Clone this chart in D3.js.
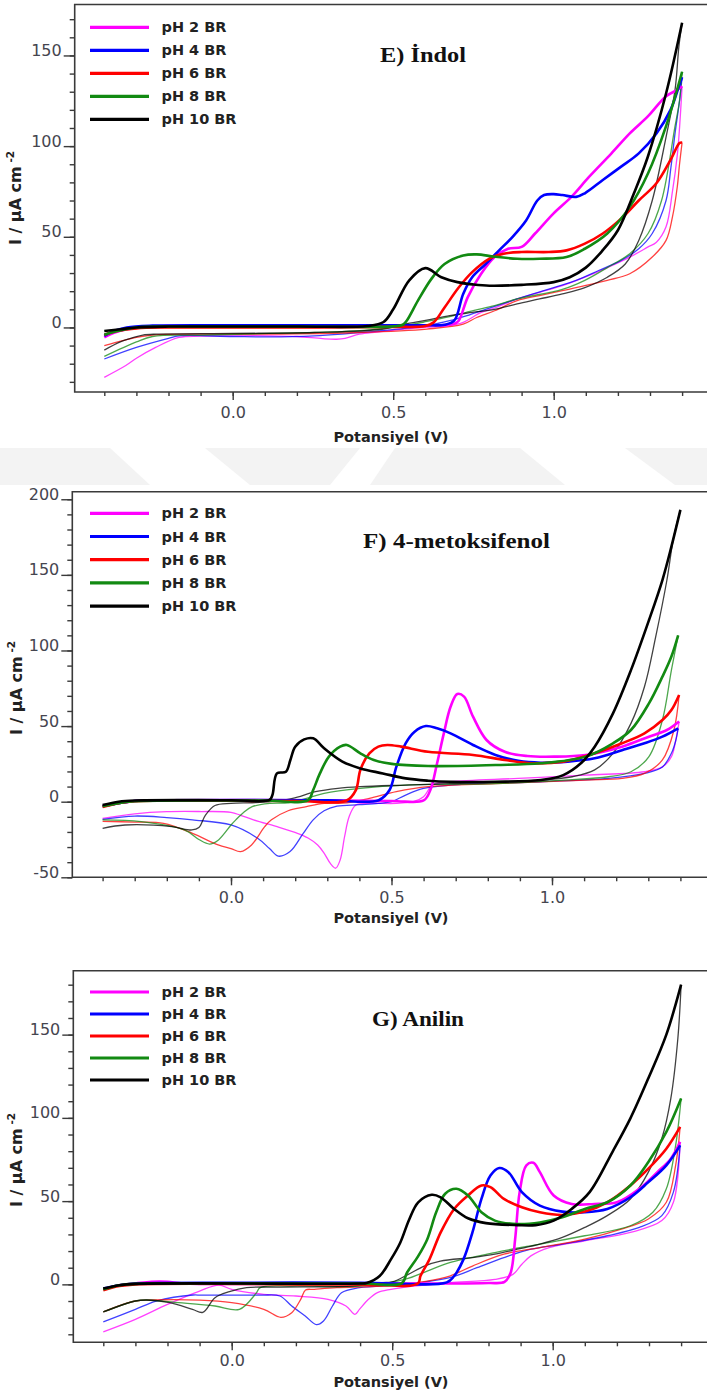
<!DOCTYPE html>
<html><head><meta charset="utf-8">
<script src="https://cdn.jsdelivr.net/npm/d3@7"></script>
<style>body{margin:0;background:#fff}svg{display:block}</style>
</head><body>
<svg id="chart" width="707" height="1396"></svg>
<script>
// ---------- labels / ticks ----------
const seriesLabels = ["pH 2 BR", "pH 4 BR", "pH 6 BR", "pH 8 BR", "pH 10 BR"];
const panelTitles = ["E) İndol", "F) 4-metoksifenol", "G) Anilin"];
const xAxisTitle = "Potansiyel (V)";
const xMajorTicks = [0.0, 0.5, 1.0];
const xMinorTicks = [-0.4,-0.3,-0.2,-0.1,0.0,0.1,0.2,0.3,0.4,0.5,0.6,0.7,0.8,0.9,1.0,1.1,1.2,1.3,1.4];
const yMajorTicksE = [0, 50, 100, 150];
const yMinorTicksE = [-30,-20,-10,0,10,20,30,40,50,60,70,80,90,100,110,120,130,140,150,160,170];
const yMajorTicksF = [-50, 0, 50, 100, 150, 200];
const yMinorTicksF = [-50,-40,-30,-20,-10,0,10,20,30,40,50,60,70,80,90,100,110,120,130,140,150,160,170,180,190,200];
const yMajorTicksG = [0, 50, 100, 150];
const yMinorTicksG = [-30,-20,-10,0,10,20,30,40,50,60,70,80,90,100,110,120,130,140,150,160,170,180];

// ---------- E) Indol : [E (V), I (uA cm-2)] ----------
const indol_pH2_fwd = [[-0.4,-5.5],[-0.37,-3],[-0.33,-1],[-0.25,0.5],[-0.1,1],[0.2,1],[0.5,1],[0.65,1.2],[0.69,2],[0.704,3.7],[0.732,16.6],[0.774,29.6],[0.816,38.8],[0.858,43.4],[0.9,44.4],[0.942,51.8],[0.999,62.8],[1.055,72],[1.11,83],[1.18,96],[1.237,107],[1.294,116.5],[1.35,127.5],[1.385,131],[1.4,133]];
const indol_pH2_rev = [[1.4,133],[1.392,110],[1.385,95],[1.37,75],[1.35,55.5],[1.32,47],[1.294,44.4],[1.237,38.8],[1.167,33],[1.097,27.7],[1.027,23],[0.956,19.4],[0.886,15.7],[0.82,11],[0.774,8.3],[0.718,2.8],[0.676,1],[0.6,0],[0.535,-0.9],[0.45,-2.5],[0.395,-3.7],[0.35,-6],[0.324,-6.5],[0.28,-6.2],[0.2,-5],[0.114,-4.6],[0,-4.6],[-0.1,-4.8],[-0.167,-5.5],[-0.24,-11],[-0.3,-17],[-0.333,-21],[-0.4,-27.5]];
const indol_pH4_fwd = [[-0.4,-4.6],[-0.37,-2],[-0.33,0],[-0.25,1],[0,1.2],[0.3,1.2],[0.6,1.2],[0.66,1.5],[0.69,3.7],[0.718,18.5],[0.746,27.7],[0.788,35],[0.83,42.5],[0.872,50],[0.914,59],[0.949,70],[0.97,73],[1.0,73.5],[1.027,73],[1.07,72],[1.097,74],[1.153,81.3],[1.21,88.7],[1.265,96],[1.32,107],[1.364,120],[1.392,134],[1.4,138]];
const indol_pH4_rev = [[1.4,138],[1.392,125],[1.378,107],[1.365,88],[1.35,70],[1.307,51.8],[1.265,43.4],[1.21,37],[1.14,31.4],[1.07,26],[1.0,22],[0.886,15.7],[0.788,10],[0.73,6.5],[0.676,3.7],[0.605,1],[0.465,-1.8],[0.35,-3.5],[0.254,-4.6],[0.114,-5.2],[0,-5],[-0.167,-4.6],[-0.2,-6],[-0.3,-11],[-0.4,-17.4]];
const indol_pH6_fwd = [[-0.4,-4],[-0.36,-2],[-0.3,-0.5],[-0.2,0],[0.2,0],[0.5,0.3],[0.6,0.8],[0.626,2.8],[0.66,11],[0.704,22],[0.746,30.5],[0.8,38],[0.844,40.7],[0.9,41.6],[0.985,41.6],[1.04,42.5],[1.097,46.2],[1.153,51.8],[1.21,60],[1.265,70],[1.32,79.5],[1.364,92.4],[1.392,101.7],[1.4,102]];
const indol_pH6_rev = [[1.4,102],[1.392,90],[1.385,77.6],[1.37,61],[1.35,48],[1.307,38.8],[1.237,29.6],[1.167,26],[1.097,23],[1.027,20.3],[0.956,17.6],[0.886,14.8],[0.816,9.2],[0.76,5.5],[0.718,1.8],[0.605,-0.9],[0.395,-2.8],[0.1,-3.7],[-0.2,-3.8],[-0.25,-4.2],[-0.3,-5.5],[-0.4,-10]];
const indol_pH8_fwd = [[-0.4,-4],[-0.36,-2],[-0.3,0],[-0.2,0.5],[0.2,0.5],[0.5,0.6],[0.53,1.5],[0.542,3.7],[0.577,14.8],[0.619,26.8],[0.66,35],[0.718,39.7],[0.76,40.3],[0.816,39],[0.886,37.9],[0.956,37.9],[1.04,38.8],[1.097,43.4],[1.167,51.8],[1.237,66.5],[1.294,85],[1.35,111],[1.4,141]];
const indol_pH8_rev = [[1.4,141],[1.392,125],[1.378,111],[1.336,70],[1.294,51.8],[1.237,40.7],[1.167,33],[1.097,26],[1.027,21],[0.886,15.7],[0.816,12],[0.746,9.2],[0.676,6],[0.605,3.3],[0.535,1],[0.395,-1.8],[0.114,-3.3],[-0.1,-4.2],[-0.25,-5],[-0.3,-8],[-0.4,-16]];
const indol_pH10_fwd = [[-0.4,-2],[-0.35,-1],[-0.3,0],[-0.2,0.5],[0.2,0.5],[0.42,0.8],[0.47,3],[0.5,10],[0.55,26],[0.6,32.7],[0.65,27.7],[0.7,25],[0.75,23.7],[0.8,23],[0.9,23.5],[1.0,25],[1.05,27.7],[1.1,33],[1.15,42],[1.2,53.6],[1.25,74],[1.293,94],[1.35,129],[1.4,168]];
const indol_pH10_rev = [[1.4,168],[1.39,155],[1.378,131],[1.35,105],[1.307,70],[1.265,48],[1.223,35],[1.167,27.7],[1.097,22],[1.027,18.5],[0.956,15.7],[0.886,13],[0.816,10],[0.746,8.3],[0.676,6.5],[0.605,4],[0.535,1.8],[0.465,-1],[0.254,-2.8],[0,-3.3],[-0.237,-3.7],[-0.28,-4.2],[-0.308,-5.5],[-0.35,-8],[-0.4,-12.5]];

// ---------- F) 4-metoksifenol ----------
const meto_pH2_fwd = [[-0.4,-3],[-0.35,-1],[-0.3,0.5],[-0.2,1],[0.2,1],[0.5,0.5],[0.6,0.8],[0.621,7.7],[0.642,25.4],[0.663,45.2],[0.684,62.8],[0.705,71.2],[0.726,69.5],[0.754,56.2],[0.796,40.8],[0.853,33],[0.923,30.2],[1.007,29.8],[1.105,30.9],[1.218,36.4],[1.302,43],[1.358,47.4],[1.396,53]];
const meto_pH2_rev = [[1.396,53],[1.385,40],[1.372,29.8],[1.344,23],[1.288,19.8],[1.105,17.6],[0.895,15.4],[0.684,13.2],[0.628,11],[0.6,3.3],[0.572,0.4],[0.515,-1.1],[0.431,-1.1],[0.389,-2.2],[0.368,-9.9],[0.354,-23],[0.34,-38.6],[0.326,-44],[0.31,-41],[0.29,-34],[0.27,-28.6],[0.24,-24],[0.207,-20.9],[0.15,-17],[0.07,-12],[0.03,-9],[0.0,-7],[-0.1,-6.5],[-0.2,-6.6],[-0.3,-8],[-0.4,-11]];
const meto_pH4_fwd = [[-0.4,-3],[-0.35,-1],[-0.3,0.5],[-0.2,1],[0.3,1],[0.46,1],[0.494,7.7],[0.515,23],[0.544,38.6],[0.572,46.3],[0.607,50],[0.642,48.5],[0.684,45.2],[0.754,37.5],[0.824,30.9],[0.895,27],[0.965,25.8],[1.049,26.5],[1.133,28.7],[1.218,34],[1.288,38.6],[1.344,43],[1.393,48.5]];
const meto_pH4_rev = [[1.393,48.5],[1.385,40],[1.372,32],[1.344,23],[1.288,18.7],[1.176,15.4],[0.965,13.2],[0.684,11],[0.6,8.8],[0.544,4.4],[0.5,0],[0.459,-1.1],[0.4,-2],[0.33,-3],[0.29,-6],[0.256,-12],[0.225,-21],[0.184,-33],[0.147,-36],[0.12,-31],[0.083,-24.2],[0.0,-15.4],[-0.12,-12],[-0.2,-10.5],[-0.3,-9.5],[-0.4,-11.7]];
const meto_pH6_fwd = [[-0.4,-3.5],[-0.35,-1],[-0.3,0.3],[0.2,0.5],[0.36,0.8],[0.389,7.7],[0.403,21],[0.431,32],[0.459,36.4],[0.487,37.5],[0.53,36.4],[0.614,33],[0.754,30.9],[0.853,27.6],[0.937,25.4],[1.035,26.5],[1.133,32],[1.218,38.6],[1.288,45.2],[1.344,54],[1.372,60.6],[1.396,70.6]];
const meto_pH6_rev = [[1.396,70.6],[1.38,47.4],[1.344,27.6],[1.288,18.7],[1.218,15.4],[1.105,14.3],[0.824,12],[0.614,9.9],[0.515,6.6],[0.431,2.2],[0.361,-0.7],[0.29,-1.1],[0.235,-3.3],[0.178,-6],[0.126,-12],[0.105,-16.5],[0.064,-28.6],[0.03,-33],[0.0,-31],[-0.04,-28.6],[-0.12,-20.9],[-0.21,-14.3],[-0.3,-13.5],[-0.4,-13]];
const meto_pH8_fwd = [[-0.4,-3],[-0.35,-1],[-0.3,0.3],[0.1,0.8],[0.24,1],[0.256,7.7],[0.277,18.7],[0.305,29.8],[0.34,36.4],[0.361,37.5],[0.403,32],[0.445,27.6],[0.501,25],[0.614,23.6],[0.824,24.3],[0.965,25.4],[1.105,29.8],[1.19,38.6],[1.246,47.4],[1.302,65],[1.344,82.7],[1.372,96],[1.393,110]];
const meto_pH8_rev = [[1.393,110],[1.372,87],[1.344,54],[1.302,29.8],[1.246,19.8],[1.176,16.5],[1.035,14.3],[0.824,12],[0.544,11],[0.403,8.8],[0.29,5.5],[0.235,2.2],[0.178,-0.7],[0.122,-1.1],[0.066,-3.3],[0.04,-7],[0.015,-12],[0.0,-15.4],[-0.041,-25.6],[-0.067,-28],[-0.1,-25],[-0.145,-18.7],[-0.28,-13.2],[-0.4,-12]];
const meto_pH10_fwd = [[-0.4,-2.2],[-0.35,0],[-0.3,0.8],[0,1],[0.12,1.2],[0.129,4.4],[0.143,18.7],[0.171,19.8],[0.185,27.6],[0.2,36.4],[0.228,41.2],[0.256,41.9],[0.29,35.3],[0.347,26.5],[0.403,22],[0.473,18.7],[0.544,15.4],[0.614,13.9],[0.684,13.2],[0.824,13.2],[0.965,14.3],[1.035,17.6],[1.09,25.4],[1.133,36.4],[1.19,58.4],[1.246,87],[1.302,120],[1.344,146.6],[1.372,168.7],[1.4,193]];
const meto_pH10_rev = [[1.4,193],[1.379,175],[1.358,146.6],[1.323,109],[1.288,76],[1.246,51.8],[1.19,32],[1.133,21],[1.063,16.5],[0.965,14.3],[0.684,12],[0.544,11],[0.403,9.9],[0.333,8.8],[0.263,6.6],[0.192,2.2],[0.122,0],[0.066,-0.7],[0,-1.1],[-0.05,-2.5],[-0.08,-9],[-0.1,-17],[-0.122,-18.7],[-0.184,-16.5],[-0.33,-15.4],[-0.4,-17.6]];

// ---------- G) Anilin ----------
const anilin_pH2_fwd = [[-0.4,-3],[-0.35,-0.5],[-0.3,0.5],[-0.25,1.5],[-0.2,1.5],[-0.15,0.5],[0.3,0.5],[0.6,0.5],[0.8,0.8],[0.85,1.5],[0.869,7],[0.883,27.2],[0.897,55.4],[0.918,71.5],[0.94,73],[0.96,67.4],[1.003,53.4],[1.059,48.3],[1.13,48.3],[1.2,49.3],[1.27,57.4],[1.326,67.4],[1.368,75.5],[1.397,85.6]];
const anilin_pH2_rev = [[1.397,85.6],[1.376,49.3],[1.34,38.3],[1.242,31.2],[1.1,26.2],[0.989,22.1],[0.932,17.1],[0.904,12.1],[0.876,6],[0.82,3],[0.679,1],[0.567,-1],[0.496,-3],[0.454,-5],[0.426,-9],[0.398,-15],[0.384,-18],[0.356,-13],[0.3,-9],[0.2,-7],[0.1,-6],[0.0,-3],[-0.04,-0.5],[-0.1,-4],[-0.2,-12],[-0.3,-21],[-0.4,-28.5]];
const anilin_pH4_fwd = [[-0.4,-2.5],[-0.35,-0.5],[-0.3,0.5],[0,1],[0.4,1],[0.67,1.2],[0.693,5],[0.722,15],[0.75,31.2],[0.778,51.3],[0.806,65.4],[0.834,69.9],[0.862,67.4],[0.904,55.4],[0.96,47.3],[1.03,43.7],[1.1,43.3],[1.17,45.3],[1.242,52.3],[1.298,61.4],[1.354,71.5],[1.397,83.5]];
const anilin_pH4_rev = [[1.397,83.5],[1.376,55.4],[1.34,41.3],[1.27,34.2],[1.17,29.2],[1.03,24.2],[0.932,21.1],[0.848,16.1],[0.764,10],[0.679,4],[0.539,0],[0.398,-2],[0.342,-5],[0.314,-13],[0.286,-22],[0.264,-24.2],[0.229,-19],[0.187,-13],[0.15,-7],[0.089,-6.5],[-0.094,-6.5],[-0.12,-6.4],[-0.235,-10],[-0.3,-15],[-0.4,-22.5]];
const anilin_pH6_fwd = [[-0.4,-3.5],[-0.35,-1],[-0.3,0],[0.4,0],[0.58,0.5],[0.588,5],[0.616,15],[0.651,31.2],[0.693,45.3],[0.736,53.4],[0.778,59.4],[0.806,58.4],[0.848,51.3],[0.904,46.3],[0.96,43.3],[1.03,41.7],[1.1,43.7],[1.17,49.3],[1.242,59.4],[1.298,69.5],[1.354,81.5],[1.397,94.6]];
const anilin_pH6_rev = [[1.397,94.6],[1.383,71.5],[1.354,49.3],[1.298,39.3],[1.214,33.2],[1.1,27.2],[0.96,22.1],[0.848,18.1],[0.75,11],[0.679,5],[0.609,2],[0.468,-1],[0.328,-2],[0.257,-3],[0.23,-3.4],[0.215,-9],[0.187,-17],[0.153,-19.8],[0.1,-15],[0.0,-11],[-0.1,-9.5],[-0.25,-9.4],[-0.3,-10],[-0.4,-16.5]];
const anilin_pH8_fwd = [[-0.4,-3],[-0.35,-0.5],[-0.3,0.3],[0.4,0.5],[0.53,0.8],[0.546,7],[0.581,17],[0.609,27],[0.637,43.3],[0.665,54.4],[0.7,57.4],[0.736,53.4],[0.778,43.3],[0.82,38.3],[0.89,36.2],[0.96,37.2],[1.03,40.3],[1.1,45.3],[1.17,49.3],[1.242,59.4],[1.298,73.5],[1.354,91.6],[1.4,111.7]];
const anilin_pH8_rev = [[1.4,111.7],[1.383,83.5],[1.354,57.4],[1.312,43.3],[1.242,35.2],[1.1,29.2],[0.96,24.2],[0.82,19.1],[0.679,13.1],[0.609,8],[0.539,3],[0.398,-1],[0.187,-1],[0.089,-2],[0.075,-5.6],[0.024,-15],[-0.052,-13],[-0.165,-11],[-0.265,-9.4],[-0.3,-10],[-0.4,-16.5]];
const anilin_pH10_fwd = [[-0.4,-2.5],[-0.35,-0.5],[-0.3,0.3],[0.4,0.5],[0.42,0.8],[0.461,5],[0.496,15],[0.525,25],[0.553,39],[0.581,49.3],[0.623,53.8],[0.651,52.3],[0.693,45.3],[0.736,39.7],[0.792,36.8],[0.89,35.6],[0.947,35.6],[1.003,38.3],[1.059,45.3],[1.115,55.4],[1.186,79.5],[1.242,99.7],[1.298,123.8],[1.354,150],[1.4,180]];
const anilin_pH10_rev = [[1.4,180],[1.39,148],[1.368,111.7],[1.34,87.6],[1.298,67.4],[1.242,51.3],[1.17,41.3],[1.1,34.2],[1.03,28.2],[0.96,24.2],[0.89,21.1],[0.82,18.1],[0.75,16.1],[0.65,14],[0.6,11],[0.55,6],[0.5,1.5],[0.468,1],[0.37,-1],[0.15,-1.6],[0.046,-2],[-0.007,-4.4],[-0.052,-8],[-0.09,-16.8],[-0.122,-15],[-0.193,-11],[-0.265,-9.4],[-0.3,-10],[-0.4,-16.5]];

// ---------- styling & layout (not data) ----------
const seriesColors = ["#ff00ff", "#0000ff", "#ff0000", "#128a12", "#000000"];
const svg = d3.select("#chart");
const W = 707;

const panels = [
  { title: panelTitles[0], fwd: [indol_pH2_fwd, indol_pH4_fwd, indol_pH6_fwd, indol_pH8_fwd, indol_pH10_fwd],
    rev: [indol_pH2_rev, indol_pH4_rev, indol_pH6_rev, indol_pH8_rev, indol_pH10_rev],
    yMajor: yMajorTicksE, yMinor: yMinorTicksE,
    left: 74.7, top: 4.5, bottom: 392, xr: [104.3, 682.1], yDom: [-35.6, 178.1],
    titleX: 423, titleY: 61.5, titleLen: 86, legY: 27.3, legStep: 23, xLabY: 26, xTitleY: 442, yTitleX: 21, yTitleY: 198 },
  { title: panelTitles[1], fwd: [meto_pH2_fwd, meto_pH4_fwd, meto_pH6_fwd, meto_pH8_fwd, meto_pH10_fwd],
    rev: [meto_pH2_rev, meto_pH4_rev, meto_pH6_rev, meto_pH8_rev, meto_pH10_rev],
    yMajor: yMajorTicksF, yMinor: yMinorTicksF,
    left: 72.3, top: 491.7, bottom: 877.3, xr: [102.6, 680.4], yDom: [-50, 205],
    titleX: 456.5, titleY: 548, titleLen: 187, legY: 513.3, legStep: 23.2, xLabY: 25.7, xTitleY: 923, yTitleX: 22, yTitleY: 688 },
  { title: panelTitles[2], fwd: [anilin_pH2_fwd, anilin_pH4_fwd, anilin_pH6_fwd, anilin_pH8_fwd, anilin_pH10_fwd],
    rev: [anilin_pH2_rev, anilin_pH4_rev, anilin_pH6_rev, anilin_pH8_rev, anilin_pH10_rev],
    yMajor: yMajorTicksG, yMinor: yMinorTicksG,
    left: 73.3, top: 970.7, bottom: 1342.3, xr: [103.3, 681.1], yDom: [-34.8, 188.4],
    titleX: 418, titleY: 1025.5, titleLen: 92, legY: 992, legStep: 22, xLabY: 23.7, xTitleY: 1386.5, yTitleX: 22, yTitleY: 1160 }
];

// faint watermark band between panels
const wm = svg.append("g");
wm.append("rect").attr("x", 0).attr("y", 448).attr("width", W).attr("height", 37).attr("fill", "#f3f3f3");
[[[110,448],[205,448],[250,485],[150,485]],[[520,448],[625,448],[675,485],[565,485]],[[330,485],[360,448],[395,448],[370,485]]]
  .forEach(pts => wm.append("polygon").attr("points", pts.map(p => p.join(",")).join(" ")).attr("fill", "#fff"));

const axisColor = "#3a3a3a";
const tickTextColor = "#45454f";
const textColor = "#222";

panels.forEach(p => {
  const g = svg.append("g");
  const x = d3.scaleLinear().domain([-0.4, 1.4]).range(p.xr);
  const y = d3.scaleLinear().domain(p.yDom).range([p.bottom, p.top]);

  // frame (top, left, bottom)
  g.append("path").attr("d", `M${W + 2},${p.top}H${p.left}V${p.bottom}H${W + 2}`)
    .attr("fill", "none").attr("stroke", axisColor).attr("stroke-width", 1.6);

  // x axis
  const xMin = g.append("g").attr("transform", `translate(0,${p.bottom})`)
    .call(d3.axisBottom(x).tickValues(xMinorTicks).tickSize(4).tickFormat(""));
  const xMaj = g.append("g").attr("transform", `translate(0,${p.bottom})`)
    .call(d3.axisBottom(x).tickValues(xMajorTicks).tickSize(8).tickFormat(d3.format(".1f")));
  [xMin, xMaj].forEach(a => { a.select(".domain").remove(); a.selectAll("line").attr("stroke", axisColor).attr("stroke-width", 1.4); });
  xMaj.selectAll("text").attr("y", p.xLabY).attr("dy", 0)
    .attr("font-family", "DejaVu Sans").attr("font-size", 16).attr("fill", tickTextColor);

  // y axis
  const yMin = g.append("g").attr("transform", `translate(${p.left},0)`)
    .call(d3.axisLeft(y).tickValues(p.yMinor).tickSize(5).tickFormat(""));
  const yMaj = g.append("g").attr("transform", `translate(${p.left},0)`)
    .call(d3.axisLeft(y).tickValues(p.yMajor).tickSize(11).tickPadding(2).tickFormat(d => String(d)));
  [yMin, yMaj].forEach(a => { a.select(".domain").remove(); a.selectAll("line").attr("stroke", axisColor).attr("stroke-width", 1.4); });
  yMaj.selectAll("text").attr("dy", 0)
    .attr("font-family", "DejaVu Sans").attr("font-size", 16).attr("fill", tickTextColor);

  // curves
  const line = d3.line().x(d => x(d[0])).y(d => y(d[1])).curve(d3.curveCatmullRom.alpha(0.5));
  p.rev.forEach((s, i) => g.append("path").datum(s).attr("d", line)
    .attr("fill", "none").attr("stroke", seriesColors[i]).attr("stroke-width", 1.3)
    .attr("stroke-opacity", 0.75).attr("stroke-linejoin", "round"));
  p.fwd.forEach((s, i) => g.append("path").datum(s).attr("d", line)
    .attr("fill", "none").attr("stroke", seriesColors[i]).attr("stroke-width", 2.6)
    .attr("stroke-linejoin", "round"));

  // legend
  seriesLabels.forEach((lab, i) => {
    const ly = p.legY + i * p.legStep;
    g.append("line").attr("x1", 90).attr("x2", 149).attr("y1", ly).attr("y2", ly)
      .attr("stroke", seriesColors[i]).attr("stroke-width", 3.2);
    g.append("text").attr("x", 161.5).attr("y", ly + 5).text(lab)
      .attr("font-family", "DejaVu Sans").attr("font-weight", "bold").attr("font-size", 14.5).attr("fill", textColor);
  });

  // title
  g.append("text").attr("x", p.titleX).attr("y", p.titleY).attr("text-anchor", "middle")
    .attr("textLength", p.titleLen).attr("lengthAdjust", "spacingAndGlyphs")
    .attr("font-family", "Liberation Serif").attr("font-weight", "bold").attr("font-size", 20)
    .attr("fill", "#111").text(p.title);

  // axis titles
  g.append("text").attr("x", 391).attr("y", p.xTitleY).attr("text-anchor", "middle")
    .attr("font-family", "DejaVu Sans").attr("font-weight", "bold").attr("font-size", 14.5)
    .attr("fill", textColor).text(xAxisTitle);
  const yt = g.append("text").attr("transform", `translate(${p.yTitleX},${p.yTitleY}) rotate(-90)`)
    .attr("text-anchor", "middle").attr("font-family", "DejaVu Sans").attr("font-weight", "bold")
    .attr("font-size", 16).attr("fill", textColor);
  yt.append("tspan").text("I / µA cm");
  yt.append("tspan").attr("dy", -7).attr("font-size", 10.5).text(" -2");
});
</script>
</body></html>
